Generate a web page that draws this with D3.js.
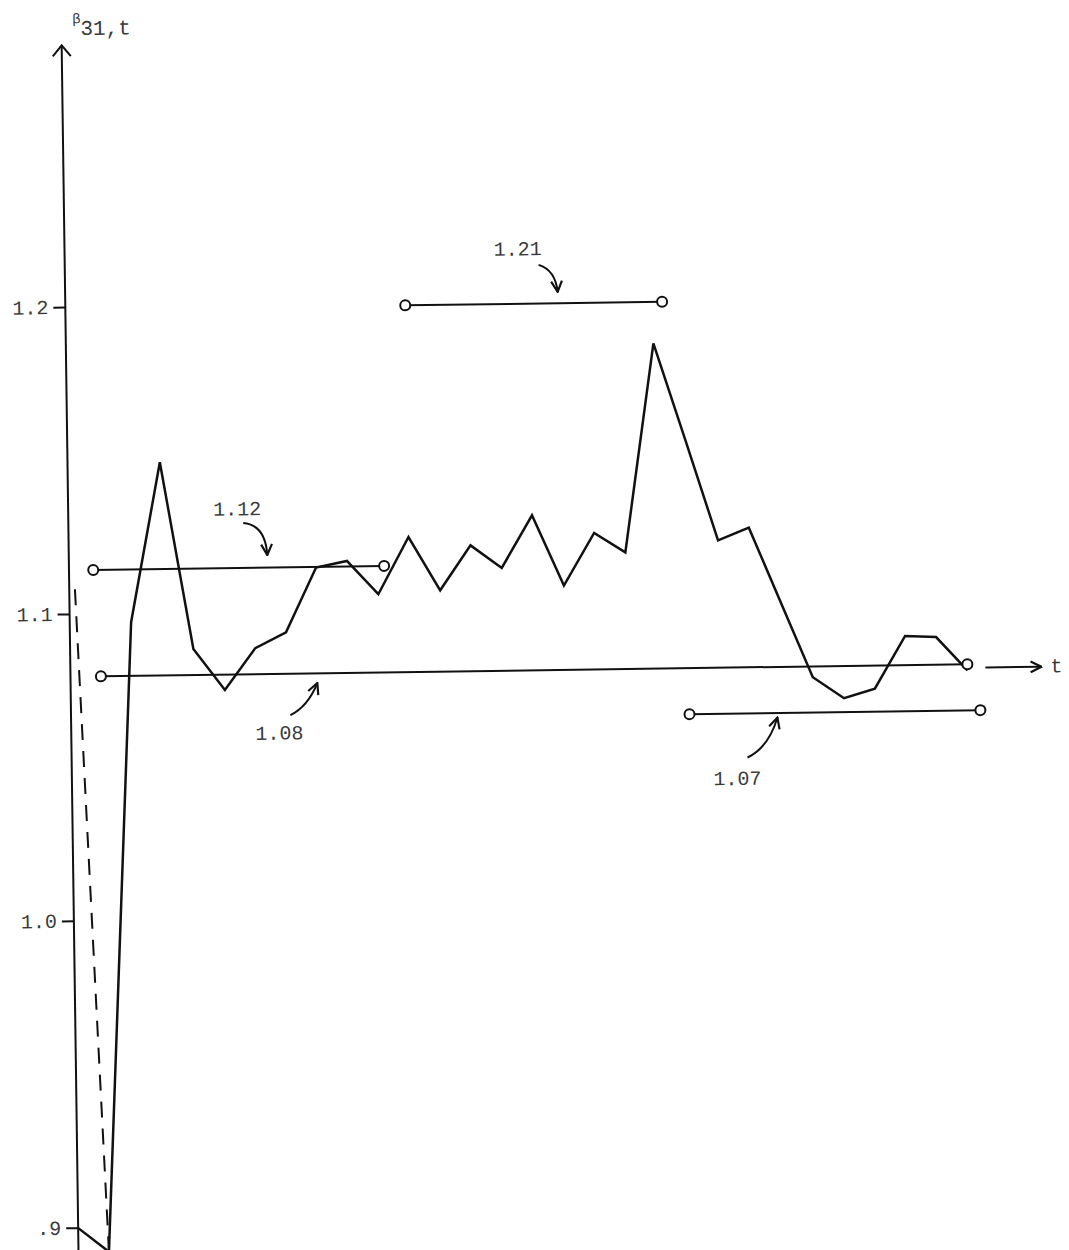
<!DOCTYPE html>
<html>
<head>
<meta charset="utf-8">
<script src="https://cdn.jsdelivr.net/npm/d3@7/dist/d3.min.js"></script>
<style>
  body { margin: 0; background: #fff; }
  svg { display: block; }
  text { font-family: "Liberation Mono", "DejaVu Sans Mono", monospace; fill: #3a3a3a; }
</style>
</head>
<body>
<script>
// beta_31,t for each period t (solid line)
var periods = d3.range(30);
var betaValues = [0.900, 0.892, 1.097, 1.149, 1.088, 1.0745, 1.088, 1.093, 1.114, 1.116,
                  1.105, 1.1235, 1.106, 1.1205, 1.113, 1.130, 1.107, 1.124, 1.1175, 1.1855,
                  1.1535, 1.121, 1.125, 1.1005, 1.076, 1.069, 1.072, 1.089, 1.0885, 1.0775];

// dashed alternative start
var dashPeriods = [0.2, 1];
var dashValues = [1.108, 0.892];

// average levels drawn as segments with open circles at the ends
var refLabels = ['1.12', '1.21', '1.08', '1.07'];
var refLevels = [1.1142, 1.199, 1.0795, 1.0645];
var refStart = [0.8, 11.0, 1.0, 20.0];
var refEnd = [10.2, 19.3, 29.0, 29.4];

// y axis ticks
var yTickValues = [0.9, 1.0, 1.1, 1.2];
var yTickLabels = ['.9', '1.0', '1.1', '1.2'];

var w = 1069,
    h = 1250;

var svg = d3.select('body')
            .append('svg')
            .attr('width', w)
            .attr('height', h);

svg.append('rect').attr('width', w).attr('height', h).attr('fill', '#fff');

// arrow heads (open chevrons)
svg.append('defs')
   .append('marker')
   .attr('id', 'head')
   .attr('viewBox', '0 0 12 12')
   .attr('refX', 11)
   .attr('refY', 6)
   .attr('markerWidth', 13)
   .attr('markerHeight', 13)
   .attr('markerUnits', 'userSpaceOnUse')
   .attr('orient', 'auto')
   .append('path')
   .attr('d', 'M1,1 L11,6 L1,11')
   .attr('fill', 'none')
   .attr('stroke', '#111')
   .attr('stroke-width', 2);

// the scanned page is slightly turned, so the whole drawing is too
var g = svg.append('g')
           .attr('transform', 'rotate(-0.8,520,640)');

var xScale = d3.scaleLinear()
               .domain([0, 29])
               .range([69.5, 967]);

var yScale = d3.scaleLinear()
               .domain([0.9, 1.2])
               .range([1221.4, 300.7]);

var axisX = 70;

// y axis with arrow at the top
g.append('line')
 .attr('x1', axisX).attr('x2', axisX)
 .attr('y1', 40).attr('y2', 1300)
 .attr('stroke', '#111')
 .attr('stroke-width', 2);

g.append('path')
 .attr('d', 'M' + (axisX - 9) + ',50 L' + axisX + ',39 L' + (axisX + 9) + ',50')
 .attr('fill', 'none')
 .attr('stroke', '#111')
 .attr('stroke-width', 2);

var yAxis = d3.axisLeft(yScale)
              .tickValues(yTickValues)
              .tickFormat(function(d, i) { return yTickLabels[i]; })
              .tickSize(12)
              .tickPadding(5);

var yAxisG = g.append('g')
              .attr('transform', 'translate(' + axisX + ',0)')
              .call(yAxis);

yAxisG.select('.domain').remove();
yAxisG.selectAll('.tick line').attr('stroke', '#111').attr('stroke-width', 2);
yAxisG.selectAll('.tick text')
      .attr('font-size', 20)
      .attr('font-family', '"Liberation Mono", monospace')
      .attr('fill', '#3a3a3a');

// axis title: beta_31,t
g.append('text')
 .attr('x', 81).attr('y', 17)
 .attr('font-size', 14)
 .text('\u03b2');
g.append('text')
 .attr('x', 89).attr('y', 29)
 .attr('font-size', 21)
 .text('31,t');

var line = d3.line()
             .x(function(d) { return xScale(d[0]); })
             .y(function(d) { return yScale(d[1]); });

// dashed line
g.append('path')
 .attr('d', line(d3.zip(dashPeriods, dashValues)))
 .attr('fill', 'none')
 .attr('stroke', '#111')
 .attr('stroke-width', 2)
 .attr('stroke-dasharray', '16,11');

// main series
g.append('path')
 .attr('d', line(d3.zip(periods, betaValues)))
 .attr('fill', 'none')
 .attr('stroke', '#111')
 .attr('stroke-width', 2.5)
 .attr('stroke-linejoin', 'miter');

// reference segments
var refs = d3.range(refLabels.length).map(function(i) {
  return { label: refLabels[i], v: refLevels[i], t0: refStart[i], t1: refEnd[i] };
});

g.selectAll('.ref')
 .data(refs)
 .enter()
 .append('line')
 .attr('class', 'ref')
 .attr('x1', function(d) { return xScale(d.t0); })
 .attr('x2', function(d) { return xScale(d.t1); })
 .attr('y1', function(d) { return yScale(d.v); })
 .attr('y2', function(d) { return yScale(d.v); })
 .attr('stroke', '#111')
 .attr('stroke-width', 2);

var ends = [];
refs.forEach(function(d) {
  ends.push({ t: d.t0, v: d.v });
  ends.push({ t: d.t1, v: d.v });
});

g.selectAll('.end')
 .data(ends)
 .enter()
 .append('circle')
 .attr('class', 'end')
 .attr('cx', function(d) { return xScale(d.t); })
 .attr('cy', function(d) { return yScale(d.v); })
 .attr('r', 5)
 .attr('fill', '#fff')
 .attr('stroke', '#111')
 .attr('stroke-width', 2);

// labels with curved arrows: tip is where the arrow points (period, pixel gap off the segment),
// start/ctrl/text are offsets from the tip
var notes = [
  { tip: 6.43, gap: -12.5, start: [-23.6, -32.4], ctrl: [-1.6, -30.3], text: [-29.4, -40] },
  { tip: 15.93, gap: -11.3, start: [-18.7, -27.3], ctrl: [-2, -22], text: [-39.4, -37] },
  { tip: 7.99, gap: 9.7, start: [-27.4, 31.6], ctrl: [-10, 23.5], text: [-38.7, 56] },
  { tip: 22.84, gap: 4.5, start: [-30.5, 39.6], ctrl: [-9.5, 30], text: [-40.8, 67] }
];

notes.forEach(function(n, i) {
  var tx = xScale(n.tip),
      ty = yScale(refs[i].v) + n.gap;

  g.append('path')
   .attr('d', 'M' + (tx + n.start[0]) + ',' + (ty + n.start[1]) +
              ' Q' + (tx + n.ctrl[0]) + ',' + (ty + n.ctrl[1]) +
              ' ' + tx + ',' + ty)
   .attr('fill', 'none')
   .attr('stroke', '#111')
   .attr('stroke-width', 2)
   .attr('marker-end', 'url(#head)');

  g.append('text')
   .attr('x', tx + n.text[0])
   .attr('y', ty + n.text[1])
   .attr('text-anchor', 'middle')
   .attr('font-size', 20)
   .text(refs[i].label);
});

// t axis arrow, continuing the 1.08 segment
var tY = yScale(refLevels[2]) + 3.5;
g.append('line')
 .attr('x1', xScale(29) + 18)
 .attr('x2', xScale(29) + 74)
 .attr('y1', tY)
 .attr('y2', tY)
 .attr('stroke', '#111')
 .attr('stroke-width', 2)
 .attr('marker-end', 'url(#head)');

g.append('text')
 .attr('x', xScale(29) + 83)
 .attr('y', tY + 6)
 .attr('font-size', 20)
 .text('t');
</script>
</body>
</html>
